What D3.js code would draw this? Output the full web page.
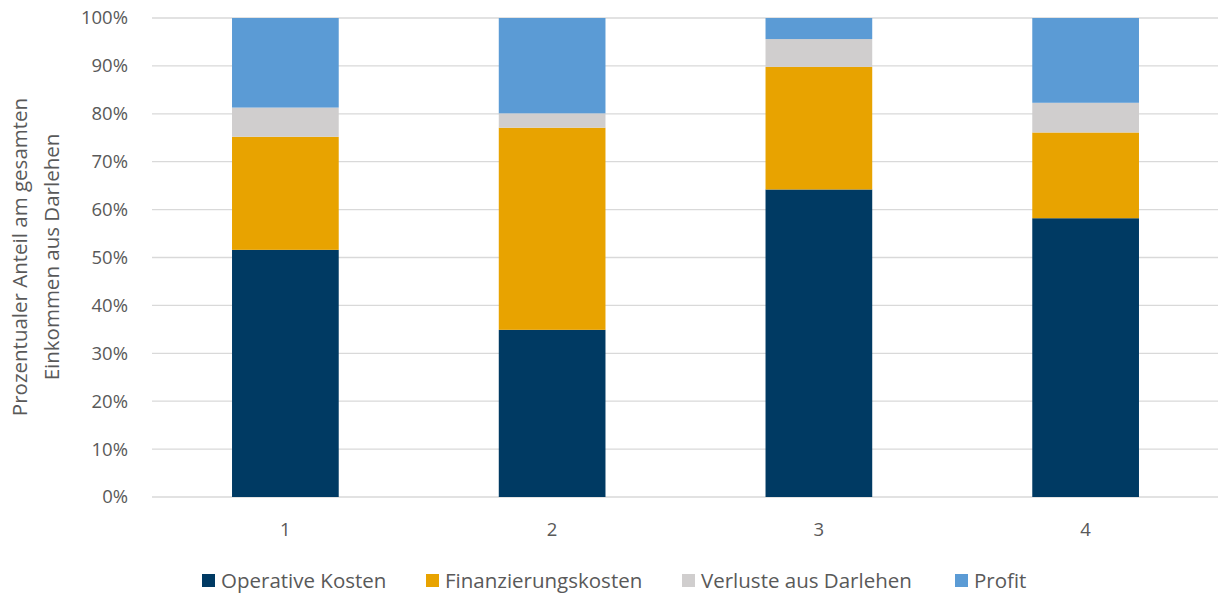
<!DOCTYPE html>
<meta charset="utf-8">
<style>
body { margin: 0; background: #fff; }
text { font-family: "Open Sans", sans-serif; fill: #595959; }
.grid line { stroke: #d9d9d9; stroke-width: 1.3; }
</style>
<svg width="1218" height="597"></svg>
<script src="https://d3js.org/d3.v7.min.js"></script>
<script>
// data
var categories = ["1", "2", "3", "4"];
var seriesNames = ["Operative Kosten", "Finanzierungskosten", "Verluste aus Darlehen", "Profit"];
var operativeKosten = [51.6, 34.9, 64.2, 58.2];
var finanzierungskosten = [23.6, 42.2, 25.6, 17.9];
var verlusteAusDarlehen = [6.1, 3.0, 5.8, 6.2];
var profit = [18.7, 19.9, 4.4, 17.7];
var colors = ["#003a63", "#e8a300", "#d0cece", "#5b9bd5"];
var yTicks = [0, 10, 20, 30, 40, 50, 60, 70, 80, 90, 100];

var svg = d3.select("svg");
var margin = {left: 152, right: 0, top: 18, bottom: 100};

var rows = categories.map(function(c, i) {
  return {cat: c, "Operative Kosten": operativeKosten[i], "Finanzierungskosten": finanzierungskosten[i],
    "Verluste aus Darlehen": verlusteAusDarlehen[i], "Profit": profit[i]};
});

var x = d3.scaleBand().domain(categories).range([margin.left, 1219]).paddingInner(0.6).paddingOuter(0.3);
var y = d3.scaleLinear().domain([0, 100]).range([497, 18]);
var color = d3.scaleOrdinal().domain(seriesNames).range(colors);

// gridlines
svg.append("g").attr("class", "grid")
  .selectAll("line").data(yTicks).enter().append("line")
    .attr("x1", margin.left).attr("x2", 1219)
    .attr("y1", d => y(d)).attr("y2", d => y(d));

// y tick labels
svg.append("g").selectAll("text").data(yTicks).enter().append("text")
  .attr("x", 128).attr("y", d => y(d)).attr("dy", "0.35em")
  .attr("text-anchor", "end").style("font-size", "18.5px")
  .text(d => d + "%");

// stacked bars
var stack = d3.stack().keys(seriesNames);
svg.append("g").selectAll("g").data(stack(rows)).enter().append("g")
    .attr("fill", d => color(d.key))
  .selectAll("rect").data(d => d).enter().append("rect")
    .attr("x", d => x(d.data.cat))
    .attr("width", x.bandwidth())
    .attr("y", d => y(d[1]))
    .attr("height", d => y(d[0]) - y(d[1]));

// x labels
svg.append("g").selectAll("text").data(categories).enter().append("text")
  .attr("x", d => x(d) + x.bandwidth() / 2).attr("y", 530).attr("dy", "0.35em")
  .attr("text-anchor", "middle").style("font-size", "18.5px")
  .text(d => d);

// y axis title
var title = svg.append("text")
  .attr("transform", "translate(0,257) rotate(-90)")
  .attr("text-anchor", "middle").style("font-size", "20.5px");
title.append("tspan").attr("x", 0).attr("y", 27).text("Prozentualer Anteil am gesamten");
title.append("tspan").attr("x", 0).attr("y", 59).text("Einkommen aus Darlehen");

// legend
var legendX = [202, 426, 682, 955];
var legend = svg.append("g").selectAll("g").data(seriesNames).enter().append("g")
  .attr("transform", (d, i) => "translate(" + legendX[i] + ",581)");
legend.append("rect").attr("x", 0).attr("y", -7).attr("width", 13).attr("height", 13)
  .attr("fill", d => color(d));
legend.append("text").attr("x", 19).attr("y", 0).attr("dy", "0.35em")
  .style("font-size", "20.5px").text(d => d);
</script>
